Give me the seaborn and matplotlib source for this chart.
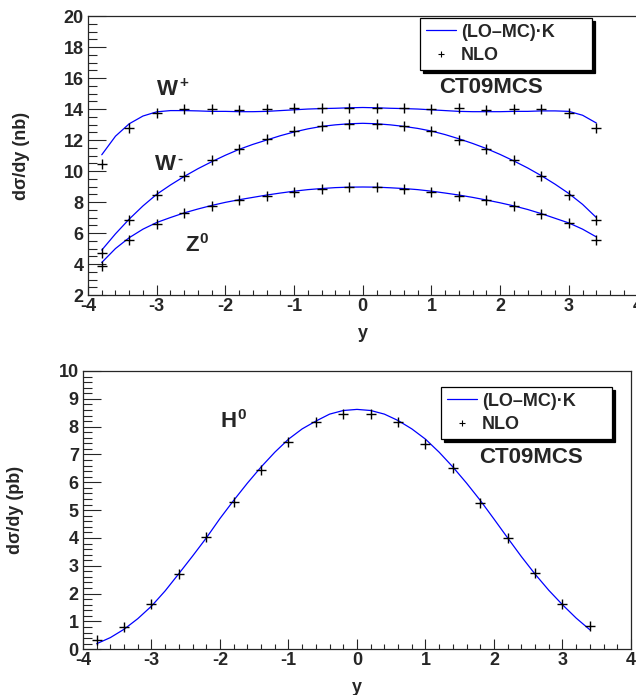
import numpy as np
import pandas as pd
import matplotlib
matplotlib.use("Agg")
import matplotlib.pyplot as plt
import seaborn as sns
from matplotlib.lines import Line2D
from matplotlib.ticker import MultipleLocator

# ── Data ──────────────────────────────────────────────────────────
y_nlo = [-3.8, -3.4, -3.0, -2.6, -2.2, -1.8, -1.4, -1.0, -0.6, -0.2,
         0.2, 0.6, 1.0, 1.4, 1.8, 2.2, 2.6, 3.0, 3.4]
wp_nlo = [10.45, 12.75, 13.72, 14.02, 14.02, 13.94, 14.02, 14.05, 14.05, 14.05,
          14.05, 14.05, 13.98, 14.05, 13.92, 14.02, 14.02, 13.72, 12.75]
wm_nlo = [4.69, 6.84, 8.45, 9.70, 10.71, 11.42, 12.04, 12.58, 12.90, 13.03,
          13.03, 12.90, 12.58, 12.00, 11.42, 10.70, 9.65, 8.45, 6.84]
z0_nlo = [3.90, 5.55, 6.58, 7.27, 7.74, 8.13, 8.41, 8.66, 8.84, 8.95,
          8.95, 8.84, 8.67, 8.39, 8.10, 7.74, 7.23, 6.63, 5.55]
h0_nlo = [0.33, 0.81, 1.61, 2.70, 4.02, 5.28, 6.46, 7.45, 8.15, 8.47,
          8.47, 8.15, 7.39, 6.52, 5.27, 4.00, 2.73, 1.61, 0.84]

y_lo = [-3.8, -3.6, -3.4, -3.2, -3.0, -2.8, -2.6, -2.4, -2.2, -2.0, -1.8, -1.6,
        -1.4, -1.2, -1.0, -0.8, -0.6, -0.4, -0.2, 0.0, 0.2, 0.4, 0.6, 0.8,
        1.0, 1.2, 1.4, 1.6, 1.8, 2.0, 2.2, 2.4, 2.6, 2.8, 3.0, 3.2, 3.4]
wp_lo = [11.05, 12.25, 13.05, 13.55, 13.82, 13.90, 13.90, 13.88, 13.85, 13.85,
         13.83, 13.83, 13.85, 13.90, 13.95, 14.00, 14.03, 14.05, 14.08, 14.10,
         14.08, 14.05, 14.03, 14.00, 13.95, 13.90, 13.85, 13.83, 13.83, 13.83,
         13.85, 13.85, 13.88, 13.88, 13.85, 13.60, 13.10]
wm_lo = [4.90, 5.95, 6.90, 7.75, 8.50, 9.10, 9.65, 10.15, 10.60, 11.02,
         11.40, 11.72, 12.00, 12.28, 12.52, 12.72, 12.88, 12.98, 13.05, 13.08,
         13.05, 12.98, 12.88, 12.75, 12.58, 12.35, 12.08, 11.78, 11.45, 11.07,
         10.65, 10.20, 9.70, 9.15, 8.55, 7.85, 7.00]
z0_lo = [4.10, 5.00, 5.70, 6.25, 6.68, 7.00, 7.30, 7.55, 7.78, 7.98,
         8.15, 8.30, 8.45, 8.58, 8.70, 8.80, 8.87, 8.93, 8.96, 8.97,
         8.96, 8.92, 8.87, 8.80, 8.70, 8.58, 8.45, 8.30, 8.13, 7.95,
         7.75, 7.52, 7.25, 6.95, 6.65, 6.25, 5.75]
h0_lo = [0.20, 0.42, 0.72, 1.10, 1.55, 2.10, 2.72, 3.35, 4.00, 4.70,
         5.35, 5.97, 6.55, 7.08, 7.55, 7.92, 8.20, 8.45, 8.58, 8.62,
         8.58, 8.45, 8.22, 7.92, 7.55, 7.08, 6.55, 5.97, 5.35, 4.68,
         4.00, 3.33, 2.70, 2.12, 1.60, 1.12, 0.70]

# ── Style ─────────────────────────────────────────────────────────
sns.set_style("ticks")
plt.rcParams['font.family'] = ['Liberation Sans', 'DejaVu Sans']
plt.rcParams['font.weight'] = 'bold'
plt.rcParams['axes.unicode_minus'] = False

BLUE = '#0000ff'

fig = plt.figure(figsize=(6.36, 6.95), dpi=100)
ax_t = fig.add_axes([0.1384, 0.5755, 0.8640, 0.4014])
ax_b = fig.add_axes([0.1305, 0.0658, 0.8616, 0.4004])

lo_df = pd.DataFrame({'y': y_lo, 'Wp': wp_lo, 'Wm': wm_lo, 'Z0': z0_lo, 'H0': h0_lo})
nlo_df = pd.DataFrame({'y': y_nlo, 'Wp': wp_nlo, 'Wm': wm_nlo, 'Z0': z0_nlo, 'H0': h0_nlo})


def draw(ax, cols):
    for c in cols:
        sns.lineplot(data=lo_df, x='y', y=c, ax=ax, color=BLUE, lw=0.9,
                     estimator=None, sort=False, zorder=2)
        sns.scatterplot(data=nlo_df, x='y', y=c, ax=ax, color='black',
                        marker='+', s=55, linewidth=1.0, zorder=3)


draw(ax_t, ['Wp', 'Wm', 'Z0'])
draw(ax_b, ['H0'])


def frame(ax, ymin, ymax, ymaj, ymin_step, ylen):
    ax.set_xlim(-4, 4)
    ax.set_ylim(ymin, ymax)
    ax.xaxis.set_major_locator(MultipleLocator(1))
    ax.xaxis.set_minor_locator(MultipleLocator(0.2))
    ax.yaxis.set_major_locator(MultipleLocator(ymaj))
    ax.yaxis.set_minor_locator(MultipleLocator(ymin_step))
    ax.tick_params(axis='x', which='major', direction='in', length=7, width=0.8,
                   labelsize=13, pad=2)
    ax.tick_params(axis='x', which='minor', direction='in', length=3.5, width=0.8)
    ax.tick_params(axis='y', which='major', direction='in', length=ylen, width=0.8,
                   labelsize=13, pad=3)
    ax.tick_params(axis='y', which='minor', direction='in', length=ylen / 2, width=0.8)
    for s in ax.spines.values():
        s.set_linewidth(0.9)
    for lab in ax.get_xticklabels() + ax.get_yticklabels():
        lab.set_fontweight('bold')


frame(ax_t, 2, 20, 2, 0.5, 13)
frame(ax_b, 0, 10, 1, 0.2, 13)

ax_t.set_xlabel('y', fontsize=13, fontweight='bold')
ax_b.set_xlabel('y', fontsize=13, fontweight='bold')
ax_t.xaxis.set_label_coords(0.5, -38 / 279)
ax_b.xaxis.set_label_coords(0.5, -38 / 278)
for a in (ax_t, ax_b):
    a.xaxis.label.set_va('center')
    a.yaxis.label.set_va('center')
ax_t.set_ylabel('dσ/dy (nb)', fontsize=13, fontweight='bold')
ax_b.set_ylabel('dσ/dy (pb)', fontsize=13, fontweight='bold')
ax_t.yaxis.set_label_coords(-66 / 549, 0.5)
ax_b.yaxis.set_label_coords(-68 / 548, 0.5)


# ── Annotations ──────────────────────────────────────────────────
def particle(ax, x, y, base, sup):
    t = ax.text(x, y, base, fontsize=16, fontweight='bold', ha='left', va='baseline')
    ax.annotate(sup, xy=(1, 1), xycoords=t, xytext=(0.5, 2),
                textcoords='offset points', fontsize=11, fontweight='bold',
                ha='left', va='top')


particle(ax_t, -2.99, 14.9, 'W', '+')
particle(ax_t, -3.02, 10.06, 'W', '-')
particle(ax_t, -2.58, 4.84, 'Z', '0')
particle(ax_b, -1.99, 7.98, 'H', '0')

ax_t.text(1.87, 15.03, 'CT09MCS', fontsize=16, fontweight='bold',
          ha='center', va='baseline')
ax_b.text(2.54, 6.69, 'CT09MCS', fontsize=16, fontweight='bold',
          ha='center', va='baseline')

# ── Legends ──────────────────────────────────────────────────────
handles = [Line2D([0], [0], color=BLUE, lw=0.9),
           Line2D([0], [0], color='black', marker='+', ls='none', ms=5, mew=0.8)]
labels = ['(LO–MC)·K', 'NLO']
for ax, x0, x1, ytop in [(ax_t, 420, 592, 18), (ax_b, 441, 612, 387)]:
    leg = ax.legend(handles, labels, loc='upper left', mode='expand',
                    bbox_to_anchor=(x0 / 636, 1 - ytop / 695, (x1 - x0) / 636, 0),
                    bbox_transform=fig.transFigure, borderaxespad=0,
                    prop={'size': 13, 'weight': 'bold'}, handlelength=1.66,
                    handletextpad=0.3, labelspacing=0.35, borderpad=0.32,
                    fancybox=False, framealpha=1, edgecolor='black',
                    shadow={'color': 'black', 'alpha': 1.0, 'ox': 2, 'oy': -2})
    leg.get_frame().set_linewidth(0.9)

fig.savefig('out.png', dpi=100)
